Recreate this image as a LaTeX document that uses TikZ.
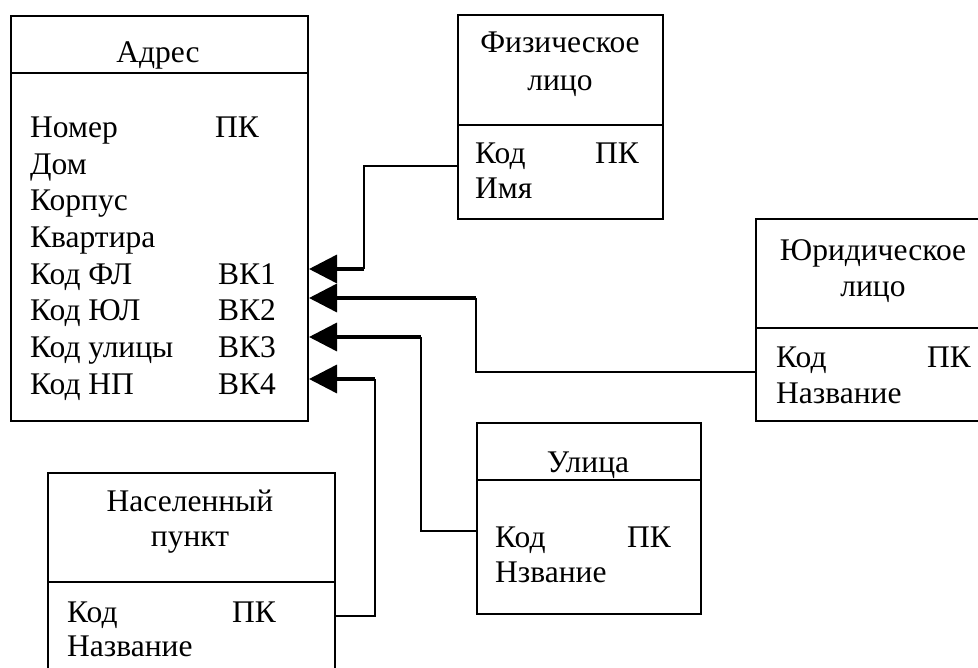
\documentclass[tikz,border=0pt]{standalone}
\usepackage{fontspec}
\setmainfont{Liberation Serif}
\usetikzlibrary{
    arrows.meta,
    positioning
}
\tikzset{
    % Boxes and texts
    entity/.style={draw,line width=2pt,rectangle,anchor=north west,inner sep=0pt},
    attr/.style={anchor=base west,inner sep=0pt},
    head/.style={anchor=base,inner sep=0pt},
    %
    % Connectors
    link/.style={line width=1.8pt},
    fk arrow/.style={line width=3.5pt,-{Triangle[length=28pt,width=28pt]}}
}
\tikzstyle{every node}=[font=\fontsize{31.5}{37}\selectfont]

\begin{document}
\begin{tikzpicture}[x=1pt,y=-1pt]
    \useasboundingbox (0,0) rectangle (978,668);

    % Адрес
    \node[entity,minimum width=297pt,minimum height=405pt] (adres) at (10,15) {};
    \draw[link] (10,73) -- (307,73);
    \node[head] (adresT) at (158,63) {Адрес};
    \node[attr] (a1) at (30,138) {Номер};
    \node[attr] (a1k) at (215,138) {ПК};
    \node[attr] (a2) at (30,175) {Дом};
    \node[attr] (a3) at (30,211) {Корпус};
    \node[attr] (a4) at (30,248) {Квартира};
    \node[attr] (a5) at (30,285) {Код ФЛ};
    \node[attr] (a5k) at (218,285) {ВК1};
    \node[attr] (a6) at (30,321) {Код ЮЛ};
    \node[attr] (a6k) at (218,321) {ВК2};
    \node[attr] (a7) at (30,358) {Код улицы};
    \node[attr] (a7k) at (218,358) {ВК3};
    \node[attr] (a8) at (30,395) {Код НП};
    \node[attr] (a8k) at (218,395) {ВК4};

    % Физическое лицо
    \node[entity,minimum width=205pt,minimum height=204pt] (fizlico) at (457,14) {};
    \draw[link] (457,125) -- (662,125);
    \node[head] (fizT1) at (560,53) {Физическое};
    \node[head] (fizT2) at (560,91) {лицо};
    \node[attr] (f1) at (475,164) {Код};
    \node[attr] (f1k) at (595,164) {ПК};
    \node[attr] (f2) at (475,199) {Имя};

    % Юридическое лицо
    \node[entity,minimum width=235pt,minimum height=202pt] (yurlico) at (755,218) {};
    \draw[link] (755,328) -- (990,328);
    \node[head] (yurT1) at (873,261) {Юридическое};
    \node[head] (yurT2) at (873,297) {лицо};
    \node[attr] (y1) at (776,368) {Код};
    \node[attr] (y1k) at (927,368) {ПК};
    \node[attr] (y2) at (776,403) {Название};

    % Улица
    \node[entity,minimum width=224pt,minimum height=191pt] (ulica) at (476,422) {};
    \draw[link] (476,480) -- (700,480);
    \node[head] (ulT) at (588,472) {Улица};
    \node[attr] (u1) at (495,547) {Код};
    \node[attr] (u1k) at (627,547) {ПК};
    \node[attr] (u2) at (495,582) {Нзвание};

    % Населенный пункт
    \node[entity,minimum width=287pt,minimum height=220pt] (nasp) at (47,472) {};
    \draw[link] (47,582) -- (334,582);
    \node[head] (npT1) at (190,511) {Населенный};
    \node[head] (npT2) at (190,546) {пункт};
    \node[attr] (n1) at (67,622) {Код};
    \node[attr] (n1k) at (232,622) {ПК};
    \node[attr] (n2) at (67,656) {Название};

    % Bends of the connectors
    \coordinate (fizA) at (364,269);
    \coordinate (yurA) at (476,298);
    \coordinate (ulA) at (421,337);
    \coordinate (npA) at (375,379);

    \draw[link] (fizlico.west |- 0,166) -| (fizA);
    \draw[fk arrow] (fizA) -- (adres.east |- fizA);
    \draw[link] (yurlico.west |- 0,372) -| (yurA);
    \draw[fk arrow] (yurA) -- (adres.east |- yurA);
    \draw[link] (ulica.west |- 0,531) -| (ulA);
    \draw[fk arrow] (ulA) -- (adres.east |- ulA);
    \draw[link] (nasp.east |- 0,616) -| (npA);
    \draw[fk arrow] (npA) -- (adres.east |- npA);
\end{tikzpicture}
\end{document}
